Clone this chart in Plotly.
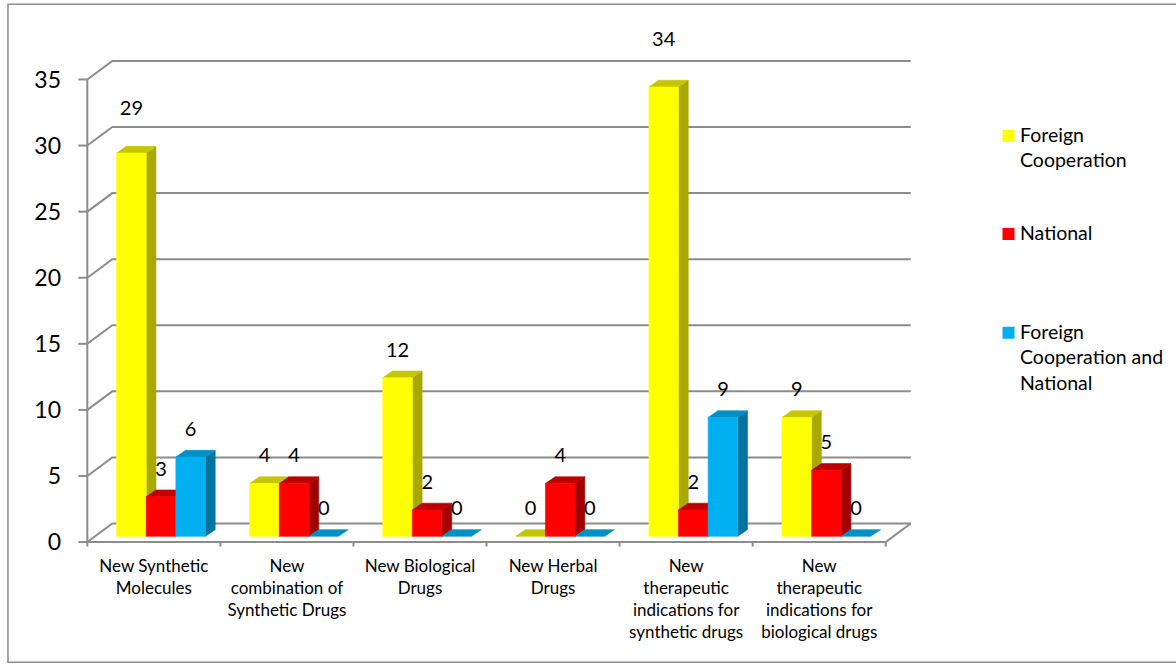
import plotly.graph_objects as go

# ---- data -------------------------------------------------------------
categories = [
    "New Synthetic<br>Molecules",
    "New<br>combination of<br>Synthetic Drugs",
    "New Biological<br>Drugs",
    "New Herbal<br>Drugs",
    "New<br>therapeutic<br>indications for<br>synthetic drugs",
    "New<br>therapeutic<br>indications for<br>biological drugs",
]
foreign_cooperation = [29, 4, 12, 0, 34, 9]
national = [3, 4, 2, 4, 2, 5]
foreign_and_national = [6, 0, 0, 0, 9, 0]

series_names = ["Foreign<br>Cooperation", "National", "Foreign<br>Cooperation and<br>National"]
y_ticks = [0, 5, 10, 15, 20, 25, 30, 35]

# ---- styling ----------------------------------------------------------
FONT = "Lato, 'Open Sans', sans-serif"
GRID = "#8c8c8c"
# (front, top, side) shades for each series
SHADES = [
    ("#ffff00", "#c6c600", "#a8a800"),
    ("#ff0000", "#c00000", "#a00000"),
    ("#00b0f0", "#0090c6", "#00739e"),
]
LEGEND_SWATCH = ["#ffff00", "#ff0000", "#00b0f0"]

W, H = 1176, 672
PX_X = 133.0          # pixels per category
PX_Y = 13.2           # pixels per value unit
X0_PX, Y0_PX = 87.3, 541.7
X_RANGE = [-0.085, 6.25]
Y_RANGE = [-0.45, 39.5]

# oblique projection offsets (in data units)
WALL_DX, WALL_DY = 25.0 / PX_X, 18.5 / PX_Y      # back wall
BAR_DX, BAR_DY = 7.2 / PX_X, 5.7 / PX_Y          # bar front plane
DEPTH_DX, DEPTH_DY = 9.7 / PX_X, 6.7 / PX_Y      # bar thickness
BAR_W = 29.6 / PX_X
LABEL_LIFT = 26.0 / PX_Y
LABEL_NUDGE = {(0, 0): 17.0 / PX_Y, (4, 0): 20.0 / PX_Y}

margin_l = X0_PX + X_RANGE[0] * PX_X
margin_r = W - (X0_PX + X_RANGE[1] * PX_X)
margin_t = Y0_PX - Y_RANGE[1] * PX_Y
margin_b = H - (Y0_PX - Y_RANGE[0] * PX_Y)
plot_w = W - margin_l - margin_r
plot_h = H - margin_t - margin_b


def px_to_paper(px, py):
    return (px - margin_l) / plot_w, (H - margin_b - py) / plot_h


n_cat = len(categories)
fig = go.Figure()

# ---- walls, floor, axis lines and tick marks ---------------------------
gx, gy = [], []
for v in y_ticks:
    gx += [0, WALL_DX, n_cat + WALL_DX, None]
    gy += [v, v + WALL_DY, v + WALL_DY, None]
    gx += [0, -9.0 / PX_X, None]
    gy += [v, v, None]
gx += [0, 0, None, 0, n_cat, n_cat + WALL_DX, None]
gy += [0, y_ticks[-1], None, 0, 0, WALL_DY, None]
for k in range(n_cat + 1):
    gx += [k, k, None]
    gy += [0, -4.5 / PX_Y, None]
fig.add_trace(go.Scatter(x=gx, y=gy, mode="lines", line=dict(color=GRID, width=2),
                         hoverinfo="skip", showlegend=False))

# ---- 3-D style bars ----------------------------------------------------
all_series = [foreign_cooperation, national, foreign_and_national]
label_x, label_y, label_t = [], [], []
for j, values in enumerate(all_series):
    front_x, front_y, side_x, side_y, top_x, top_y = [], [], [], [], [], []
    for k, v in enumerate(values):
        xl = k + 0.5 - 1.5 * BAR_W + j * BAR_W + BAR_DX
        xr = xl + BAR_W
        yb = BAR_DY
        yt = yb + v
        if v > 0:
            front_x += [xl, xr, xr, xl, xl, None]
            front_y += [yb, yb, yt, yt, yb, None]
            side_x += [xr, xr + DEPTH_DX, xr + DEPTH_DX, xr, xr, None]
            side_y += [yb, yb + DEPTH_DY, yt + DEPTH_DY, yt, yb, None]
        top_x += [xl, xr, xr + DEPTH_DX, xl + DEPTH_DX, xl, None]
        top_y += [yt, yt, yt + DEPTH_DY, yt + DEPTH_DY, yt, None]
        label_x.append((xl + xr) / 2)
        label_y.append(yt + LABEL_LIFT + LABEL_NUDGE.get((k, j), 0.0))
        label_t.append(str(v))
    front_c, top_c, side_c = SHADES[j]
    for xs, ys, col in ((side_x, side_y, side_c), (top_x, top_y, top_c), (front_x, front_y, front_c)):
        if xs:
            fig.add_trace(go.Scatter(x=xs, y=ys, mode="lines", fill="toself", fillcolor=col,
                                     line=dict(color=col, width=0.6), hoverinfo="skip",
                                     showlegend=False))

fig.add_trace(go.Scatter(x=label_x, y=label_y, mode="text", text=label_t,
                         textposition="middle center", cliponaxis=False,
                         textfont=dict(family=FONT, size=20, color="#000000"),
                         hoverinfo="skip", showlegend=False))

# ---- legend ------------------------------------------------------------
shapes = []
annotations = []
legend_first_line_px = [136.0, 234.0, 332.7]
for name, col, cy in zip(series_names, LEGEND_SWATCH, legend_first_line_px):
    x0, y0 = px_to_paper(1002, cy + 6)
    x1, y1 = px_to_paper(1014, cy - 6)
    shapes.append(dict(type="rect", xref="paper", yref="paper", x0=x0, y0=y0, x1=x1, y1=y1,
                       fillcolor=col, line=dict(width=0)))
    ax, ay = px_to_paper(1017, cy - 15)
    annotations.append(dict(xref="paper", yref="paper", x=ax, y=ay, xanchor="left", yanchor="top",
                            text=name, showarrow=False, align="left",
                            font=dict(family=FONT, size=19.5, color="#000000")))

# outer frame
fx0, fy0 = px_to_paper(8, 661.7)
fx1, fy1 = px_to_paper(1190, 4.5)
shapes.append(dict(type="rect", xref="paper", yref="paper", x0=fx0, y0=fy0, x1=fx1, y1=fy1,
                   line=dict(color=GRID, width=1.5), fillcolor="rgba(0,0,0,0)", layer="below"))

fig.update_layout(
    width=W, height=H,
    margin=dict(l=margin_l, r=margin_r, t=margin_t, b=margin_b, autoexpand=False),
    paper_bgcolor="white", plot_bgcolor="white",
    showlegend=False,
    shapes=shapes, annotations=annotations,
    xaxis=dict(range=X_RANGE, showgrid=False, zeroline=False, showline=False,
               tickmode="array", tickvals=[k + 0.5 for k in range(n_cat)], ticktext=categories,
               ticks="", ticklabelstandoff=6,
               tickfont=dict(family=FONT, size=17, color="#000000")),
    yaxis=dict(range=Y_RANGE, showgrid=False, zeroline=False, showline=False,
               tickmode="array", tickvals=y_ticks, ticks="", ticklabelstandoff=14,
               tickfont=dict(family=FONT, size=23, color="#000000")),
)

fig.write_html("out.html")
